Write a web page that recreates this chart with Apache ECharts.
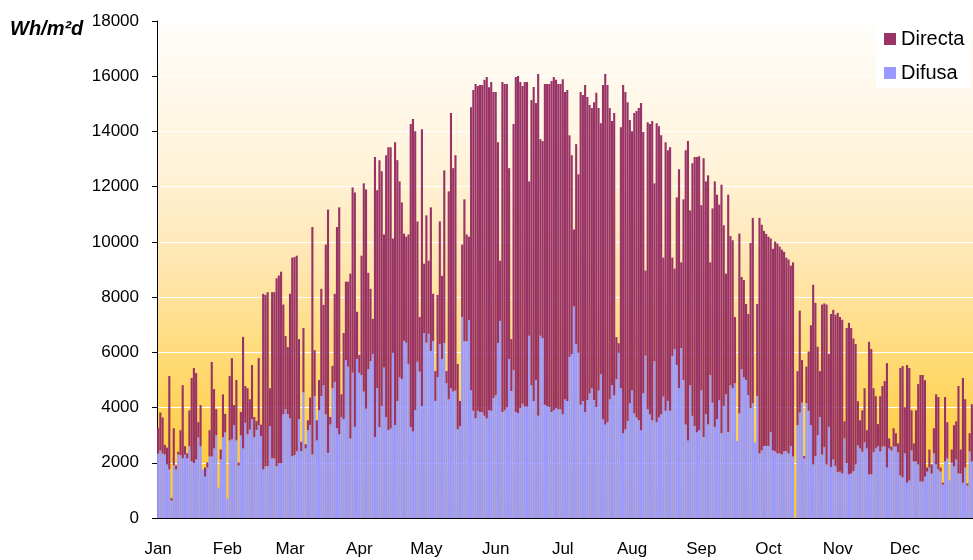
<!DOCTYPE html>
<html>
<head>
<meta charset="utf-8">
<script src="https://cdn.jsdelivr.net/npm/echarts@6/dist/echarts.min.js"></script>
<style>
body { margin: 0px; background: #fff; }
#main1 { width: 973px; height: 560px; }
</style>
</head>
<body>
<div id="main1"></div>
<script>
var months = ['Jan', 'Feb', 'Mar', 'Apr', 'May', 'Jun', 'Jul', 'Aug', 'Sep', 'Oct', 'Nov', 'Dec'];
var monthDays = [31, 28, 31, 30, 31, 30, 31, 31, 30, 31, 30, 31];

// top of each daily column (Difusa + Directa), Wh/m2d
var total = [
	3270, 3820, 3640, 2650, 2550, 5140, 720, 3250, 1900, 2400, 3180, 4810, 2600, 2340, 3900, 5070, 5430, 5250, 3470, 4090,
	1750, 1830, 2010, 3180, 5650, 4670, 3940, 1100, 2480, 4480, 3770, 700, 5140, 5790, 4090, 5000, 2010,
	3840, 6560, 4780, 4700, 4300, 5540, 3660, 3510, 5790, 3380, 8120, 8080, 8180, 4700, 8180, 8180, 8680, 8780, 8920, 7730, 6590, 6190,
	8120, 9430, 9450, 9500, 6480, 2760, 6880, 2670, 3540, 4360, 10540, 6080, 3540, 5000, 8300, 7720, 9900, 11170, 3660, 5510,
	8120, 10540, 11250, 4480, 6700, 8560, 8560, 8850, 11970, 11790, 7470, 5900, 9500, 12120, 11900, 8880, 8300, 7210, 13070, 11870,
	12960, 12560, 10270, 13140, 13430, 13430, 10120, 13610, 12960, 12190, 11430, 10300, 10190, 10270, 14270, 14450, 14010, 10740, 7280, 14080,
	9210, 10960, 9320,
	11250, 8120, 5320, 8080, 10740, 8770, 12590, 5320, 11830, 14670, 12670, 13140, 5580, 4240, 9900, 11540, 10270, 10190, 14880, 15500,
	15720, 15650, 15680, 15680, 15870, 15970, 15600, 15790, 15430, 15430, 13610, 9320, 15790, 15720, 15720, 12670, 6480, 14270, 15970, 16010,
	15790, 15650, 15790, 15790, 12190, 15140, 15610, 15030, 16080, 13720, 13650, 15720, 15720, 15720, 15830, 15970, 15870, 15720, 15720, 15890,
	15430,
	15500, 13860, 13140, 10450, 13540, 12450, 15430, 15320, 15680, 15250, 14960, 14850, 15060, 15400, 14850, 14300, 15680, 16080, 15680, 14850,
	14380, 14670, 6550, 6330, 14150, 15680, 15430, 15060, 14410, 14010, 14670, 14740, 14850, 15030, 13980, 8960, 14330, 14270, 14380, 12120,
	14300, 14190, 13860, 9430, 13610, 13320, 13430, 9430, 9030, 11610, 12630, 9260, 11540, 13320, 13650, 11140, 12850, 13070, 13070, 13100,
	11330,
	13030, 12190, 12410, 9260, 11210, 12190, 11710, 11350, 12070, 10600, 8850, 11710, 10210, 10060, 7280, 2790, 10300, 8730, 8620, 7750,
	7390, 9960, 10870, 2730, 7750, 10870, 10620, 10400, 10290, 10190, 10120, 9750, 10010, 9940, 9830, 9720, 9640, 9430, 9360, 9140,
	9260, null, 5320, 7510, 5720, 2240, 5480, 6030, 6980, 8450, 7790, 6200, 5320, 7730, 7770, 7730, 5940, 7390, 7540,
	7360, 7430, 7280, 7180, 3500, 6880, 7070, 6880, 6500, 6300, 4230, 3540, 3900, 4700, 3180, 6380, 6120, 4700, 4410, 3400,
	4410, 4780, 4960, 5610, 2880, 2590,
	3250, 3070, 2700, 5430, 5500, 4010, 5540, 5430, 3900, 2700, 3900, 4850, 5180, 5180, 4990, 1830, 2480, 1940, 3250, 4480,
	4380, 1830, 1280, 4380, 3470, 1360, 2480, 3360, 3500, 4780, 2480, 5070, 4300, 1250, 3070, 4120
];

// diffuse part (bottom of each column)
var difusa = [
	2340, 2450, 2340, 2300, 1940, 1760, 630, 1910, 1760, 2300, 2280, 2160, 2300, 2160, 2600, 2050, 1990, 2120, 2920, 2600,
	1750, 1500, 1830, 2230, 2230, 2520, 3000, 1100, 2120, 2920, 3100, 700, 2810, 2850, 3360, 2810, 1900,
	2990, 2520, 3450, 3030, 3200, 3580, 2930, 3190, 3360, 2970, 1760, 1880, 1880, 3330, 2160, 2160, 1880, 1980, 1980, 3760, 3940, 3760,
	3610, 2240, 2280, 2420, 3580, 2420, 4550, 2520, 3180, 3370, 2300, 4420, 2810, 3900, 4420, 4810, 3760, 2360, 3390, 4700,
	4930, 3250, 3030, 3660, 3580, 5720, 5480, 2880, 5270, 3300, 5760, 5260, 5180, 4580, 3960, 5390, 5680, 5940, 2930, 4700,
	3300, 4060, 5450, 3660, 3190, 3240, 5980, 3370, 4240, 5100, 5030, 6420, 6350, 5580, 3300, 3130, 3910, 5660, 5300, 4060,
	6700, 6350, 6670,
	6050, 6410, 4240, 5100, 6300, 5760, 6340, 4880, 4300, 4700, 4580, 4620, 3210, 3330, 7280, 6400, 6400, 7170, 4630, 3880,
	3610, 3880, 3840, 3840, 3700, 3600, 3900, 3880, 4350, 4450, 6340, 7140, 3840, 3900, 4000, 5760, 4600, 5360, 3840, 3790,
	3980, 4140, 4040, 4040, 6600, 4810, 4240, 5000, 3700, 6600, 6520, 4100, 4060, 4020, 3840, 3910, 3980, 3940, 3940, 3760,
	4300,
	4240, 5840, 5940, 7660, 6300, 5980, 4100, 4240, 3840, 4270, 4520, 4700, 4270, 4020, 4620, 5210, 3580, 3390, 3480, 4300,
	4810, 4450, 5030, 5980, 4700, 3070, 3210, 3510, 4160, 4630, 3790, 3640, 3540, 3180, 4520, 5880, 3940, 3760, 3540, 5680,
	3480, 3650, 3760, 4400, 3880, 4240, 3880, 5870, 6120, 5540, 4700, 6160, 5000, 3390, 2810, 4810, 3700, 3330, 3110, 3180,
	4620,
	2930, 3760, 3390, 5180, 4180, 3300, 3580, 4270, 3070, 4060, 4480, 3110, 4810, 4700, 4880, 2790, 3790, 5390, 5090, 5000,
	4450, 3980, 4160, 2730, 4420, 2340, 2450, 2610, 2610, 2610, 3110, 2450, 2420, 2340, 2340, 2300, 2420, 2420, 2340, 2610,
	2230, null, 3360, 3820, 4180, 2160, 4160, 3880, 3360, 1940, 2240, 3000, 3660, 2300, 2570, 1940, 3300, 1850, 2120,
	1880, 1660, 1680, 1610, 2880, 1980, 1580, 1610, 1700, 1940, 2630, 2520, 2400, 2740, 2520, 1580, 1580, 2380, 2520, 2600,
	2410, 2590, 2590, 1830, 2520, 2450,
	2590, 2590, 2380, 1540, 1470, 2340, 1280, 1360, 2450, 2050, 2050, 1940, 1320, 1320, 1500, 1680, 1830, 1610, 2340, 1940,
	1760, 1680, 1210, 2050, 2160, 1360, 2010, 1870, 2120, 1610, 1610, 1280, 1830, 1180, 2410, 2050
];

var days = [];
var monthStart = {};
for (var m = 0; m < 12; m++) {
	monthStart[days.length] = true;
	for (var d = 1; d <= monthDays[m]; d++) {
		days.push(d === 1 ? months[m] : months[m] + ' ' + d);
	}
}

var directa = [];
for (var i = 0; i < total.length; i++) {
	directa.push(total[i] == null ? null : total[i] - difusa[i]);
}

var myChart = echarts.init(document.getElementById('main1'));

var option = {
	animation: false,
	textStyle: { fontFamily: 'Liberation Sans' },
	grid: {
		left: 157,
		right: 0,
		top: 21,
		bottom: 42,
		show: true,
		borderWidth: 0,
		backgroundColor: {
			type: 'linear', x: 0, y: 0, x2: 0, y2: 1,
			colorStops: [
				{ offset: 0, color: '#fffefb' },
				{ offset: 0.3, color: '#fff2d8' },
				{ offset: 0.5, color: '#ffe6ae' },
				{ offset: 0.7, color: '#ffd970' },
				{ offset: 0.85, color: '#ffcf48' },
				{ offset: 1, color: '#ffc82a' }
			]
		}
	},
	legend: {
		data: ['Directa', 'Difusa'],
		orient: 'vertical',
		left: 876,
		top: 20,
		padding: [9, 6, 5, 8],
		itemGap: 14,
		itemWidth: 12,
		itemHeight: 12,
		icon: 'rect',
		backgroundColor: '#fff',
		textStyle: { fontSize: 20, color: '#000', fontFamily: 'Liberation Sans' }
	},
	graphic: [
		{
			type: 'text',
			left: 10,
			top: 19,
			style: {
				text: 'Wh/m²d',
				font: 'italic bold 20px "Liberation Sans"',
				fill: '#000'
			}
		}
	],
	xAxis: {
		type: 'category',
		data: days,
		axisLine: { lineStyle: { color: '#000' } },
		axisTick: {
			length: 5,
			lineStyle: { color: '#000' },
			interval: function (idx) { return !!monthStart[idx]; }
		},
		axisLabel: {
			interval: function (idx) { return !!monthStart[idx]; },
			fontSize: 17,
			color: '#000',
			margin: 23
		},
		splitLine: { show: false }
	},
	yAxis: {
		type: 'value',
		min: 0,
		max: 18000,
		interval: 2000,
		axisLine: { show: true, lineStyle: { color: '#000' } },
		axisTick: { show: true, length: 5, lineStyle: { color: '#000' } },
		axisLabel: {
			fontSize: 17,
			color: '#000',
			margin: 18,
			formatter: function (v) { return String(v); }
		},
		splitLine: { lineStyle: { color: '#ffffff', width: 1 } }
	},
	series: [
		{
			name: 'Difusa',
			type: 'bar',
			stack: 'rad',
			barCategoryGap: '5%',
			itemStyle: { color: '#9999ff' },
			data: difusa
		},
		{
			name: 'Directa',
			type: 'bar',
			stack: 'rad',
			barCategoryGap: '5%',
			itemStyle: { color: '#993366' },
			data: directa
		}
	]
};

myChart.setOption(option);
</script>
</body>
</html>
